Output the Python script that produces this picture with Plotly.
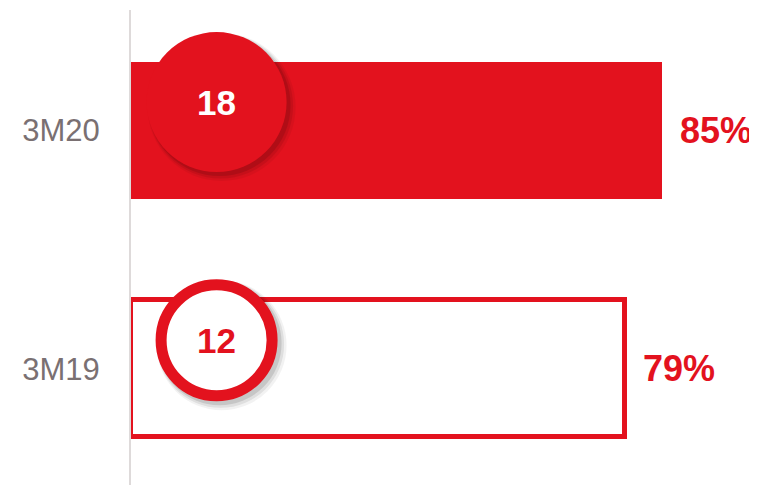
import plotly.graph_objects as go

# ---- data ----
categories = ["3M19", "3M20"]
share_pct = [79, 85]          # bar values (%)
badge_counts = [12, 18]       # numbers in the circles
pct_labels = ["79%", "85%"]

# ---- style ----
RED = "#E3121E"
GRAY_TXT = "#7A7072"
AXIS_GRAY = "#DEDADA"
FONT = "Liberation Sans, Arial, sans-serif"
BAR_W = 0.575
BADGE_X = 13.7          # data position of the badges along x
BADGE_DY = 28.5         # px above bar centre
R_FILLED = 70
R_RING = 55.5
RING_W = 11
PAGE_PAD = 8            # default body margin of the html page

fig = go.Figure()

fig.add_trace(go.Bar(
    y=categories, x=share_pct, orientation="h", width=BAR_W,
    marker=dict(
        color=["white", RED],
        line=dict(color=[RED, RED], width=[5, 0]),
    ),
    hoverinfo="skip", showlegend=False,
))

shapes = []
annotations = []
for i, (cat, val, cnt, lab) in enumerate(zip(categories, share_pct, badge_counts, pct_labels)):
    filled = i == 1
    r_out = R_FILLED if filled else R_RING + RING_W / 2
    # soft drop shadow (bottom-right)
    for grow, off, op in [(4, 5, 0.05), (2.5, 4, 0.08), (1, 3, 0.11)]:
        rr = r_out + grow
        shapes.append(dict(
            type="circle", xref="x", yref="y",
            xsizemode="pixel", ysizemode="pixel",
            xanchor=BADGE_X, yanchor=i,
            x0=-rr + off, x1=rr + off,
            y0=BADGE_DY - rr - off, y1=BADGE_DY + rr - off,
            fillcolor=f"rgba(0,0,0,{op})", line=dict(width=0), layer="above",
        ))
    if filled:
        shapes.append(dict(
            type="circle", xref="x", yref="y",
            xsizemode="pixel", ysizemode="pixel",
            xanchor=BADGE_X, yanchor=i,
            x0=-R_FILLED, x1=R_FILLED,
            y0=BADGE_DY - R_FILLED, y1=BADGE_DY + R_FILLED,
            fillcolor=RED, line=dict(width=0), layer="above",
        ))
    else:
        shapes.append(dict(
            type="circle", xref="x", yref="y",
            xsizemode="pixel", ysizemode="pixel",
            xanchor=BADGE_X, yanchor=i,
            x0=-R_RING, x1=R_RING,
            y0=BADGE_DY - R_RING, y1=BADGE_DY + R_RING,
            fillcolor="white", line=dict(width=RING_W, color=RED), layer="above",
        ))
    annotations.append(dict(
        x=BADGE_X, y=cat, xref="x", yref="y", text=f"<b>{cnt}</b>",
        showarrow=False, yshift=BADGE_DY, xanchor="center", yanchor="middle",
        font=dict(family=FONT, size=35, color="white" if filled else RED),
    ))
    annotations.append(dict(
        x=val, y=cat, xref="x", yref="y", text=f"<b>{lab}</b>",
        showarrow=False, xanchor="left", yanchor="middle", xshift=16,
        font=dict(family=FONT, size=36, color=RED),
    ))

fig.update_layout(
    width=757 - PAGE_PAD, height=485 - PAGE_PAD,
    margin=dict(l=131 - PAGE_PAD, r=0, t=10 - PAGE_PAD, b=0),
    paper_bgcolor="white", plot_bgcolor="white",
    bargap=0,
    shapes=shapes, annotations=annotations,
    xaxis=dict(range=[0, 100.2], visible=False, fixedrange=True),
    yaxis=dict(
        type="category", categoryorder="array", categoryarray=categories,
        range=[-0.488, 1.506],
        showline=True, linecolor=AXIS_GRAY, linewidth=2,
        showgrid=False, zeroline=False, ticks="",
        ticklabelstandoff=23,
        tickfont=dict(family=FONT, size=31, color=GRAY_TXT),
        fixedrange=True,
    ),
    font=dict(family=FONT),
)

fig.write_html("out.html")
